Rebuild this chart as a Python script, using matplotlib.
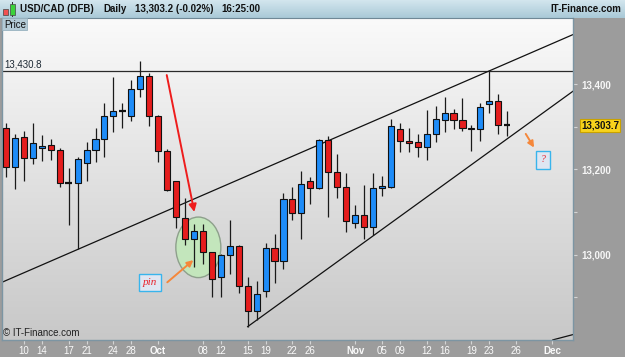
import numpy as np
import matplotlib.pyplot as plt
from matplotlib.colors import LinearSegmentedColormap
from matplotlib.patches import Ellipse, Rectangle

plt.rcParams['font.family'] = ['Liberation Sans', 'DejaVu Sans']

# daily candles, USD/CAD (x10000), oldest first
opens = [13298, 13205, 13275, 13226, 13249, 13257, 13245, 13169, 13167, 13214,
         13245, 13270, 13325, 13337, 13325, 13388, 13419, 13325, 13243, 13172,
         13085, 13036, 13056, 13005, 12947, 13000, 13021, 12926, 12868, 12915,
         13015, 12986, 13130, 13097, 13172, 13155, 13268, 13194, 13159, 13073,
         13092, 13065, 13156, 13159, 13294, 13266, 13263, 13253, 13283, 13316,
         13331, 13316, 13298, 13294, 13354, 13359, 13303.7]
highs = [13308, 13283, 13289, 13309, 13280, 13271, 13249, 13204, 13229, 13265,
         13296, 13356, 13416, 13355, 13409, 13454, 13426, 13327, 13247, 13173,
         13133, 13072, 13072, 13007, 13001, 13080, 13022, 12947, 12939, 13028,
         13048, 13144, 13158, 13197, 13181, 13272, 13278, 13237, 13191, 13116,
         13163, 13191, 13184, 13317, 13309, 13296, 13283, 13339, 13348, 13370,
         13342, 13367, 13303, 13356, 13430.8, 13377, 13337]
lows = [13183, 13153, 13173, 13212, 13220, 13222, 13158, 13070, 13012, 13173,
        13218, 13230, 13288, 13296, 13313, 13370, 13302, 13218, 13149, 13062,
        13022, 12970, 12978, 12900, 12900, 12954, 12909, 12831, 12847, 12900,
        12933, 12966, 13081, 13037, 13119, 13153, 13087, 13132, 13054, 13062,
        13036, 13046, 13137, 13155, 13241, 13241, 13230, 13222, 13265, 13288,
        13294, 13290, 13244, 13267, 13331, 13282, 13278]
closes = [13205, 13274, 13226, 13262, 13255, 13245, 13169, 13169, 13224, 13245,
          13271, 13325, 13337, 13337, 13388, 13419, 13325, 13243, 13151, 13087,
          13036, 13056, 13006, 12943, 13000, 13021, 12926, 12868, 12908, 13015,
          12986, 13130, 13097, 13165, 13155, 13268, 13194, 13159, 13078, 13092,
          13065, 13155, 13162, 13301, 13266, 13261, 13253, 13282, 13318, 13331,
          13316, 13298, 13294, 13345, 13359, 13303, 13303.7]

tick_pos = [2, 4, 7, 9, 12, 14, 17, 22, 24, 27, 29, 32, 34, 39, 42, 44, 47, 49, 52, 54, 57, 61]
tick_labels = ['10', '14', '17', '21', '24', '28', 'Oct', '08', '12', '15', '19', '22', '26',
               'Nov', '05', '09', '12', '16', '19', '23', '26', 'Dec']
months = ['Oct', 'Nov', 'Dec']

price_major = [13000, 13200, 13400]
price_major_labels = ['13,000', '13,200', '13,400']
price_minor = [12900, 13100, 13300]

resistance = 13430.8
last_price = 13303.7
upper_line = [(8, 13012), (54, 13430.8)]
lower_line = [(27, 12831), (64, 13393)]
corner_line = [(61.1, 12800), (64, 12816)]

W, H = 625, 357
fig = plt.figure(figsize=(W / 100, H / 100), dpi=100, facecolor='#9c9c9c')


def fx(px):
    return px / W


def fy(py):
    return 1 - py / H


# header bar
hax = fig.add_axes([0, fy(18), 1, 18 / H])
hcm = LinearSegmentedColormap.from_list('hdr', ['#d3e6ee', '#a9c9d7'])
hax.imshow(np.linspace(0, 1, 64).reshape(-1, 1), cmap=hcm, aspect='auto', extent=[0, 1, 0, 1])
hax.set_axis_off()

fig.text(fx(20), fy(9), 'USD/CAD (DFB)', fontsize=7, fontweight='bold', va='center', color='#111')
fig.text(fx(103), fy(9), 'Daily', fontsize=7, fontweight='bold', va='center', color='#111')
fig.text(fx(135), fy(9), '13,303.2 (-0.02%)', fontsize=7, fontweight='bold', va='center', color='#111')
fig.text(fx(221), fy(9), '16:25:00', fontsize=7, fontweight='bold', va='center', color='#111')
fig.text(fx(621), fy(9), 'IT-Finance.com', fontsize=7, fontweight='bold', va='center', ha='right', color='#111')

# little candle icon
fig.patches.append(Rectangle((fx(5.5), fy(17)), 0.6 / W, 11 / H, transform=fig.transFigure, fc='#333', ec='none'))
fig.patches.append(Rectangle((fx(3), fy(15)), 5 / W, 6 / H, transform=fig.transFigure, fc='#f05050', ec='#444', lw=0.5))
fig.patches.append(Rectangle((fx(12.3), fy(17)), 0.6 / W, 15 / H, transform=fig.transFigure, fc='#333', ec='none'))
fig.patches.append(Rectangle((fx(10), fy(14.5)), 5 / W, 10 / H, transform=fig.transFigure, fc='#3bd23b', ec='#444', lw=0.5))

# main chart
ax = fig.add_axes([fx(2), fy(340), (573 - 2) / W, (340 - 18) / H])
x0, x1 = -0.447, 63.35
y0, y1 = 12799.7, 13554.8
ax.set_xlim(x0, x1)
ax.set_ylim(y0, y1)

bg = LinearSegmentedColormap.from_list('bg', ['#fafafa', '#c8c8c8'])
ax.imshow(np.linspace(0, 1, 256).reshape(-1, 1), cmap=bg, aspect='auto',
          extent=[x0, x1, y0, y1], zorder=0)

xs = np.arange(len(opens))
o = np.array(opens)
c = np.array(closes)
ax.vlines(xs, lows, highs, color='#1a1a1a', lw=0.9, zorder=3)
body = np.abs(c - o)
is_doji = body < 1
up = (c > o) & ~is_doji
dn = (c < o) & ~is_doji
ax.bar(xs[up], body[up], bottom=o[up], width=0.68, color='#1e8cf8', edgecolor='#111', lw=0.8, zorder=4)
ax.bar(xs[dn], body[dn], bottom=c[dn], width=0.68, color='#e51d1d', edgecolor='#111', lw=0.8, zorder=4)
ax.hlines(c[is_doji], xs[is_doji] - 0.36, xs[is_doji] + 0.36, color='#111', lw=1.6, zorder=4)

# lines drawn on the chart
ax.axhline(resistance, color='#2a2a2a', lw=0.9, zorder=2)
ax.text(0.004, resistance + 3, '13,430.8', transform=ax.get_yaxis_transform(),
        fontsize=7, color='#1c2833', va='bottom')
ax.axline(upper_line[0], upper_line[1], color='#111', lw=0.9, zorder=2)
ax.plot(*zip(*lower_line), color='#111', lw=0.9, zorder=2)
ax.plot(*zip(*corner_line), color='#111', lw=0.9, zorder=2)

# annotations
ax.add_patch(Ellipse((21.49, 13017), 5.03, 142, fc='#c3e6bc', ec='#8ea08c', lw=1, zorder=1.5))
ax.annotate('', xy=(21.04, 13100), xytext=(17.96, 13421),
            arrowprops=dict(arrowstyle='-|>', color='#ee1c1c', lw=1.4, mutation_scale=11,
                            shrinkA=0, shrinkB=0), zorder=5)
ax.annotate('', xy=(20.93, 12987), xytext=(18.02, 12935),
            arrowprops=dict(arrowstyle='-|>', color='#f5873a', lw=1.4, mutation_scale=9,
                            shrinkA=0, shrinkB=0), zorder=5)
ax.annotate('', xy=(59.0, 13251), xytext=(58.07, 13283),
            arrowprops=dict(arrowstyle='-|>', color='#f5873a', lw=1.4, mutation_scale=9,
                            shrinkA=0, shrinkB=0), zorder=5)
ax.text(16.05, 12934, 'pin', ha='center', va='center', fontsize=8, color='#e8202a',
        style='italic', family='Liberation Serif', zorder=6,
        bbox=dict(boxstyle='square,pad=0.35', fc='#dfe6f2', ec='#38b4ec', lw=1))
ax.text(60.02, 13222, '?', ha='center', va='center', fontsize=7, color='#e8202a',
        style='italic', family='Liberation Serif', zorder=6,
        bbox=dict(boxstyle='square,pad=0.5', fc='#dfe6f2', ec='#38b4ec', lw=1))

# axes styling
for s in ['left', 'right', 'bottom']:
    ax.spines[s].set_color('#7c95a3')
    ax.spines[s].set_linewidth(1)
ax.spines['top'].set_color('#6f8896')

ax.yaxis.tick_right()
ax.set_yticks(price_major, labels=price_major_labels)
ax.set_yticks(price_minor, minor=True)
ax.tick_params(axis='y', which='both', colors='#d4d4d4', labelcolor='#f6f6f6',
               length=3, width=0.8, labelsize=7, pad=3)
for t in ax.get_yticklabels():
    t.set_fontweight('bold')

ax.set_xticks(tick_pos, labels=tick_labels)
ax.tick_params(axis='x', colors='#d4d4d4', labelcolor='#fafafa', length=3, width=0.8,
               labelsize=7, pad=1)
for t in ax.get_xticklabels():
    if t.get_text() in months:
        t.set_fontweight('bold')

ax.text(1.014, last_price, '13,303.7', transform=ax.get_yaxis_transform(), ha='left', va='center',
        fontsize=7, fontweight='bold', color='#111', clip_on=False,
        bbox=dict(boxstyle='square,pad=0.15', fc='#f8d31c', ec='#c9a200', lw=0.8))

# price tab and copyright
fig.patches.append(Rectangle((fx(2), fy(30)), 25 / W, 12 / H, transform=fig.transFigure,
                             fc='#b4cbd6', ec='#98b2bf', lw=0.6, zorder=10))
fig.text(fx(4), fy(24.5), 'Price', fontsize=7, va='center', color='#111', zorder=11)
fig.text(fx(3), fy(333), '\u00a9 IT-Finance.com', fontsize=7, va='center', color='#222')

fig.savefig('out.png', dpi=100, facecolor=fig.get_facecolor())
